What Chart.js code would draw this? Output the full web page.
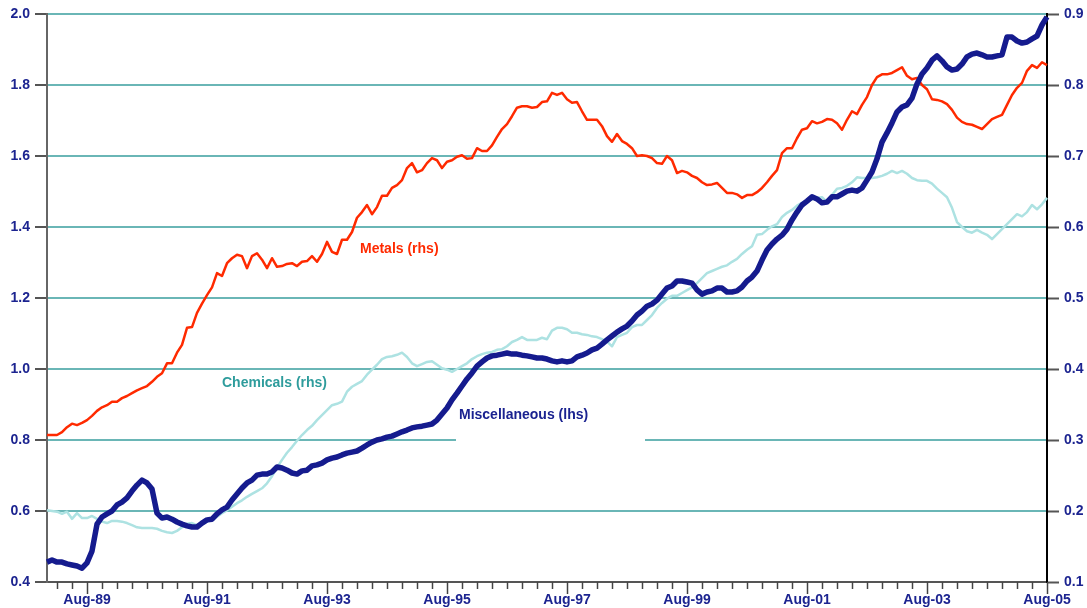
<!DOCTYPE html>
<html>
<head>
<meta charset="utf-8">
<script src="https://cdn.jsdelivr.net/npm/chart.js@4.4.1/dist/chart.umd.min.js"></script>
<style>
  body { margin: 0; background: #fff; }
  #wrap { width: 1087px; height: 608px; }
</style>
</head>
<body>
<div id="wrap"><canvas id="chart" width="1087" height="608"></canvas></div>
<script>
// monthly series, Dec-88 .. Aug-05
const startYear = 1988, startMonth = 11; // Dec
const monthNames = ['Jan','Feb','Mar','Apr','May','Jun','Jul','Aug','Sep','Oct','Nov','Dec'];
const tickLabels = ['Aug-89','Aug-91','Aug-93','Aug-95','Aug-97','Aug-99','Aug-01','Aug-03','Aug-05'];
const quarterMonths = ['Feb','May','Aug','Nov'];

// Miscellaneous (lhs)
const misc = [
  0.456,0.462,0.456,0.456,0.451,0.448,0.445,0.439,0.454,0.487,
  0.563,0.583,0.592,0.600,0.617,0.625,0.637,0.656,0.673,0.687,
  0.679,0.662,0.594,0.580,0.583,0.577,0.569,0.563,0.558,0.555,
  0.555,0.566,0.575,0.577,0.592,0.603,0.611,0.631,0.648,0.665,
  0.679,0.687,0.701,0.704,0.704,0.710,0.724,0.721,0.715,0.707,
  0.704,0.713,0.715,0.727,0.730,0.735,0.744,0.749,0.752,0.758,
  0.763,0.766,0.769,0.777,0.786,0.794,0.800,0.803,0.808,0.811,
  0.817,0.823,0.828,0.834,0.837,0.839,0.842,0.845,0.856,0.873,
  0.890,0.913,0.932,0.952,0.972,0.989,1.008,1.020,1.031,1.037,
  1.039,1.042,1.045,1.042,1.042,1.039,1.037,1.034,1.031,1.031,
  1.028,1.023,1.020,1.023,1.020,1.023,1.034,1.039,1.045,1.054,
  1.059,1.070,1.082,1.093,1.104,1.113,1.121,1.135,1.152,1.163,
  1.177,1.183,1.194,1.211,1.228,1.234,1.248,1.248,1.245,1.242,
  1.223,1.211,1.217,1.220,1.228,1.228,1.217,1.217,1.220,1.231,
  1.248,1.259,1.276,1.307,1.335,1.352,1.366,1.377,1.394,1.420,
  1.442,1.462,1.473,1.485,1.479,1.468,1.470,1.485,1.485,1.493,
  1.501,1.504,1.501,1.510,1.532,1.555,1.592,1.639,1.665,1.693,
  1.724,1.738,1.744,1.763,1.803,1.831,1.848,1.870,1.882,1.868,
  1.851,1.842,1.845,1.859,1.879,1.887,1.890,1.885,1.879,1.879,
  1.882,1.885,1.935,1.935,1.924,1.918,1.921,1.930,1.938,1.969,1.992
];

// Metals (rhs)
const metals = [
  0.307,0.307,0.307,0.311,0.318,0.323,0.321,0.324,0.328,0.334,
  0.341,0.346,0.349,0.354,0.354,0.359,0.362,0.366,0.370,0.373,
  0.376,0.382,0.389,0.394,0.408,0.408,0.423,0.434,0.458,0.459,
  0.479,0.492,0.504,0.515,0.535,0.531,0.549,0.556,0.561,0.559,
  0.542,0.559,0.563,0.554,0.542,0.556,0.544,0.545,0.548,0.549,
  0.545,0.551,0.552,0.559,0.551,0.562,0.579,0.565,0.562,0.582,
  0.582,0.593,0.613,0.621,0.631,0.618,0.628,0.644,0.644,0.655,
  0.659,0.666,0.683,0.690,0.677,0.680,0.690,0.697,0.694,0.683,
  0.692,0.694,0.699,0.701,0.696,0.697,0.711,0.707,0.707,0.715,
  0.727,0.738,0.745,0.756,0.768,0.770,0.770,0.768,0.769,0.776,
  0.777,0.789,0.786,0.789,0.780,0.775,0.776,0.763,0.751,0.751,
  0.751,0.742,0.728,0.720,0.731,0.721,0.717,0.711,0.700,0.701,
  0.700,0.697,0.690,0.689,0.700,0.694,0.676,0.679,0.677,0.672,
  0.669,0.663,0.659,0.660,0.662,0.655,0.648,0.648,0.646,0.641,
  0.645,0.645,0.649,0.655,0.663,0.672,0.680,0.704,0.711,0.711,
  0.725,0.737,0.739,0.749,0.746,0.748,0.752,0.751,0.746,0.737,
  0.751,0.763,0.759,0.772,0.783,0.800,0.811,0.815,0.815,0.817,
  0.821,0.825,0.813,0.808,0.810,0.800,0.794,0.780,0.779,0.777,
  0.773,0.765,0.754,0.748,0.745,0.744,0.741,0.738,0.745,0.752,
  0.755,0.758,0.772,0.786,0.796,0.803,0.820,0.828,0.824,0.832,0.828
];

// Chemicals (rhs)
const chemicals = [
  0.201,0.200,0.199,0.196,0.199,0.189,0.197,0.190,0.190,0.193,
  0.189,0.185,0.183,0.186,0.186,0.185,0.183,0.180,0.177,0.176,
  0.176,0.176,0.175,0.172,0.170,0.169,0.172,0.177,0.182,0.183,
  0.180,0.182,0.185,0.187,0.192,0.197,0.201,0.206,0.211,0.215,
  0.220,0.224,0.228,0.232,0.239,0.249,0.261,0.272,0.282,0.290,
  0.299,0.307,0.314,0.320,0.328,0.335,0.342,0.349,0.351,0.354,
  0.368,0.375,0.379,0.383,0.392,0.399,0.406,0.414,0.417,0.418,
  0.420,0.423,0.417,0.408,0.404,0.407,0.410,0.411,0.406,0.401,
  0.399,0.396,0.400,0.404,0.408,0.414,0.418,0.421,0.423,0.424,
  0.427,0.428,0.432,0.438,0.441,0.445,0.441,0.441,0.441,0.444,
  0.442,0.454,0.458,0.458,0.456,0.451,0.451,0.449,0.448,0.446,
  0.445,0.442,0.439,0.432,0.445,0.448,0.451,0.459,0.462,0.462,
  0.469,0.476,0.486,0.493,0.499,0.503,0.503,0.507,0.511,0.515,
  0.521,0.528,0.535,0.538,0.541,0.544,0.546,0.551,0.555,0.562,
  0.568,0.573,0.589,0.590,0.596,0.601,0.604,0.614,0.620,0.624,
  0.630,0.634,0.637,0.639,0.641,0.642,0.635,0.645,0.654,0.655,
  0.658,0.663,0.670,0.669,0.669,0.669,0.670,0.672,0.675,0.679,
  0.676,0.679,0.675,0.669,0.666,0.665,0.665,0.661,0.654,0.648,
  0.642,0.627,0.607,0.600,0.594,0.592,0.596,0.592,0.589,0.583,
  0.590,0.597,0.604,0.611,0.618,0.615,0.621,0.631,0.625,0.632,0.641
];

// in-chart series labels, placed in data units (month index, lhs value)
const notes = [
  { text: 'Metals (rhs)', at: 62.6, val: 1.338, color: '#ff2a00' },
  { text: 'Chemicals (rhs)', at: 35.0, val: 0.961, color: '#2e9c9c' },
  { text: 'Miscellaneous (lhs)', at: 82.4, val: 0.870, color: '#1a2290' }
];

const labels = [];
for (let i = 0; i < misc.length; i++) {
  const m = (startMonth + i) % 12;
  const y = startYear + Math.floor((startMonth + i) / 12);
  labels.push(monthNames[m] + '-' + String(y).slice(2));
}

const navy = '#1c2490';
const teal = '#6ab6b6';
const tickFont = { family: 'Arial, "Liberation Sans", sans-serif', size: 14, weight: 'bold' };

const extras = {
  id: 'extras',
  beforeDatasetsDraw(chart) {
    // white patch behind the Miscellaneous label
    const ctx = chart.ctx, x = chart.scales.x, y = chart.scales.y;
    ctx.save();
    ctx.fillStyle = '#fff';
    const x0 = x.getPixelForValue(81.8), x1 = x.getPixelForValue(119.6);
    const y0 = y.getPixelForValue(0.913), y1 = y.getPixelForValue(0.792);
    ctx.fillRect(x0, y0, x1 - x0, y1 - y0);
    ctx.restore();
  },
  afterDraw(chart) {
    const ctx = chart.ctx, x = chart.scales.x, y = chart.scales.y;
    const bottom = chart.chartArea.bottom;
    ctx.save();
    // quarterly tick marks, longer at labelled months
    ctx.strokeStyle = '#444';
    ctx.lineWidth = 1.5;
    labels.forEach((lab, i) => {
      if (!quarterMonths.includes(lab.slice(0, 3))) return;
      const px = Math.round(x.getPixelForValue(i)) + 0.5;
      const len = tickLabels.includes(lab) ? 12 : 7;
      ctx.beginPath();
      ctx.moveTo(px, bottom);
      ctx.lineTo(px, bottom + len);
      ctx.stroke();
    });
    // series labels
    ctx.font = 'bold 14px Arial, "Liberation Sans", sans-serif';
    ctx.textAlign = 'left';
    ctx.textBaseline = 'middle';
    notes.forEach(n => {
      ctx.fillStyle = n.color;
      ctx.fillText(n.text, x.getPixelForValue(n.at), y.getPixelForValue(n.val));
    });
    ctx.restore();
  }
};

new Chart(document.getElementById('chart'), {
  type: 'line',
  data: {
    labels: labels,
    datasets: [
      { label: 'Miscellaneous (lhs)', data: misc, yAxisID: 'y', borderColor: '#151b8e', borderWidth: 5.5 },
      { label: 'Metals (rhs)', data: metals, yAxisID: 'y2', borderColor: '#ff2a00', borderWidth: 2.5 },
      { label: 'Chemicals (rhs)', data: chemicals, yAxisID: 'y2', borderColor: '#ade2e2', borderWidth: 2.5 }
    ]
  },
  options: {
    responsive: false,
    animation: false,
    events: [],
    elements: { point: { radius: 0 }, line: { tension: 0, borderJoinStyle: 'round' } },
    layout: { padding: { top: 14, left: 0, right: 0, bottom: 0 } },
    plugins: { legend: { display: false }, tooltip: { enabled: false } },
    scales: {
      x: {
        type: 'category',
        offset: false,
        grid: { display: false, drawTicks: false },
        border: { display: true, color: '#555', width: 2 },
        ticks: {
          autoSkip: false,
          maxRotation: 0,
          padding: 10,
          color: navy,
          font: tickFont,
          callback: function (value) {
            const lab = this.getLabelForValue(value);
            return tickLabels.includes(lab) ? lab : '';
          }
        },
        afterFit(scale) { scale.height = 26; }
      },
      y: {
        position: 'left',
        min: 0.4, max: 2.0,
        grid: { color: teal, lineWidth: 2, tickLength: 12, tickColor: '#555', tickWidth: 2 },
        border: { display: true, color: '#666', width: 2 },
        ticks: {
          stepSize: 0.2, padding: 5, color: navy, font: tickFont,
          callback: v => v.toFixed(1)
        },
        afterFit(scale) { scale.width = 47; }
      },
      y2: {
        position: 'right',
        min: 0.1, max: 0.9,
        grid: { drawOnChartArea: false, tickLength: 12, tickColor: '#555', tickWidth: 2 },
        border: { display: true, color: '#000', width: 2 },
        ticks: {
          stepSize: 0.1, padding: 5, color: navy, font: tickFont,
          callback: v => v.toFixed(1)
        },
        afterFit(scale) { scale.width = 40; }
      }
    }
  },
  plugins: [extras]
});
</script>
</body>
</html>
